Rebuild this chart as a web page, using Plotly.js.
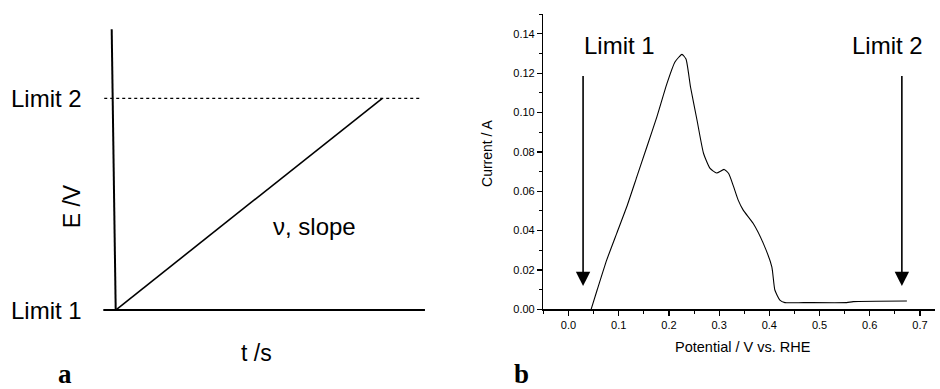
<!DOCTYPE html>
<html>
<head>
<meta charset="utf-8">
<script src="https://cdn.plot.ly/plotly-3.0.1.min.js"></script>
<style>html,body{margin:0;padding:0;background:#fff}#chart{width:940px;height:389px}</style>
</head>
<body>
<div id="chart"></div>
<script>
// ---- Panel a: schematic potential sweep (t normalised, E: Limit 1 = 0, Limit 2 = 1)
const axisT = [-0.015, 0];
const axisE = [1.326, 0];
const baseT = [-0.0465, 1.16];
const baseE = [0, 0];
const sweepT = [0, 1];
const sweepE = [0, 1];
const limit2T = [-0.043, 1.148];
const limit2E = [1, 1];
const limitLabels = ["Limit 1", "Limit 2"];
const limitE = [0, 1];

// ---- Panel b: stripping voltammogram
const potential = [0.045, 0.057, 0.076, 0.096, 0.116, 0.136, 0.156, 0.176, 0.196, 0.212, 0.226, 0.234, 0.243, 0.256, 0.269, 0.282, 0.295, 0.310, 0.319, 0.329, 0.338, 0.348, 0.368, 0.388, 0.405, 0.411, 0.421, 0.431, 0.468, 0.554, 0.567, 0.674];
const current = [0, 0.0098, 0.025, 0.0386, 0.0521, 0.0673, 0.0825, 0.0978, 0.1147, 0.1257, 0.1296, 0.1272, 0.113, 0.0961, 0.0792, 0.0716, 0.0693, 0.0711, 0.069, 0.0622, 0.0555, 0.0504, 0.0436, 0.0335, 0.0216, 0.0098, 0.0047, 0.0034, 0.0034, 0.0034, 0.0039, 0.0042];
const arrowX = [0.029, 0.664];
const arrowTail = [0.1194, 0.1194];
const arrowTip = [0.0118, 0.0118];
const arrowLabelX = [0.1015, 0.6354];
const arrowLabelY = [0.134, 0.134];
const xTicks = [0, 0.1, 0.2, 0.3, 0.4, 0.5, 0.6, 0.7];
const yTicks = [0, 0.02, 0.04, 0.06, 0.08, 0.10, 0.12, 0.14];

const F = '"Liberation Sans", Arial, sans-serif';
const S = '"Liberation Serif", "Times New Roman", serif';

const traces = [
  {x: axisT, y: axisE, xaxis: 'x2', yaxis: 'y2', mode: 'lines', line: {color: '#000', width: 2}, hoverinfo: 'skip'},
  {x: baseT, y: baseE, xaxis: 'x2', yaxis: 'y2', mode: 'lines', line: {color: '#000', width: 2}, hoverinfo: 'skip'},
  {x: sweepT, y: sweepE, xaxis: 'x2', yaxis: 'y2', mode: 'lines', line: {color: '#000', width: 1.6}, hoverinfo: 'skip'},
  {x: limit2T, y: limit2E, xaxis: 'x2', yaxis: 'y2', mode: 'lines', line: {color: '#000', width: 1.2, dash: 'dot'}, hoverinfo: 'skip'},
  {x: potential, y: current, xaxis: 'x', yaxis: 'y', mode: 'lines', line: {color: '#000', width: 1.1, shape: 'spline', smoothing: 0.5}}
];

const annotations = [];
function txt(o) {
  annotations.push(Object.assign({showarrow: false, xanchor: 'center', yanchor: 'middle'}, o));
}
// panel a labels
limitLabels.forEach((t, i) => txt({
  text: t, xref: 'paper', yref: 'y2', x: 0.0897, y: limitE[i], xanchor: 'right',
  font: {family: F, size: 24, color: '#000'}
}));
txt({text: 'E /V', xref: 'paper', yref: 'paper', x: 0.0763, y: 0.469, textangle: -90,
  font: {family: F, size: 23, color: '#000'}});
txt({text: 'ν, slope', xref: 'paper', yref: 'paper', x: 0.3351, y: 0.4172,
  font: {family: F, size: 24, color: '#000'}});
txt({text: 't /s', xref: 'paper', yref: 'paper', x: 0.2731, y: 0.0918,
  font: {family: F, size: 23, color: '#000'}});
txt({text: '<b>a</b>', xref: 'paper', yref: 'paper', x: 0.0688, y: -0.006, yanchor: 'bottom',
  font: {family: S, size: 27, color: '#000'}});
txt({text: '<b>b</b>', xref: 'paper', yref: 'paper', x: 0.5553, y: -0.006, yanchor: 'bottom',
  font: {family: S, size: 27, color: '#000'}});
// panel b arrows and labels
arrowX.forEach((x, i) => {
  annotations.push({x: x, y: arrowTip[i], ax: x, ay: arrowTail[i], xref: 'x', yref: 'y', axref: 'x', ayref: 'y',
    showarrow: true, arrowhead: 2, arrowsize: 1.8, arrowwidth: 1.6, arrowcolor: '#000', standoff: 0, text: ''});
  txt({text: limitLabels[i], x: arrowLabelX[i], y: arrowLabelY[i], xref: 'x', yref: 'y',
    font: {family: F, size: 24, color: '#000'}});
});
txt({text: 'Current / A', xref: 'paper', yref: 'paper', x: 0.5186, y: 0.608, textangle: -90,
  font: {family: F, size: 14, color: '#000'}});
txt({text: 'Potential / V vs. RHE', xref: 'paper', yref: 'paper', x: 0.7908, y: 0.1087,
  font: {family: F, size: 14.5, color: '#000'}});

const layout = {
  width: 940, height: 389,
  margin: {l: 0, r: 0, t: 0, b: 0},
  paper_bgcolor: '#fff', plot_bgcolor: 'rgba(0,0,0,0)',
  showlegend: false,
  xaxis: {domain: [0.5781, 0.99468], range: [-0.05, 0.73], anchor: 'y',
    showline: true, linecolor: '#000', linewidth: 1.5, showgrid: false, zeroline: false,
    tickmode: 'array', tickvals: xTicks, tickformat: '.1f', ticks: 'outside', ticklen: 5, tickwidth: 1.2, tickcolor: '#000',
    minor: {dtick: 0.05, tick0: 0, ticks: 'outside', ticklen: 3, tickwidth: 1, tickcolor: '#000', showgrid: false},
    tickfont: {family: F, size: 11, color: '#000'}},
  yaxis: {domain: [0.20488, 0.96452], range: [0, 0.1502], anchor: 'x',
    showline: true, linecolor: '#000', linewidth: 1.5, showgrid: false, zeroline: false,
    tickmode: 'array', tickvals: yTicks, tickformat: '.2f', ticks: 'outside', ticklen: 5, tickwidth: 1.2, tickcolor: '#000',
    minor: {dtick: 0.01, tick0: 0, ticks: 'outside', ticklen: 3, tickwidth: 1, tickcolor: '#000', showgrid: false},
    tickfont: {family: F, size: 11, color: '#000'}},
  xaxis2: {domain: [0.10638, 0.45745], range: [-0.0589, 1.1789], anchor: 'y2', visible: false, fixedrange: true},
  yaxis2: {domain: [0.17738, 0.94859], range: [-0.0472, 1.3699], anchor: 'x2', visible: false, fixedrange: true},
  annotations: annotations
};

Plotly.newPlot('chart', traces, layout, {displayModeBar: false, staticPlot: true});
</script>
</body>
</html>
